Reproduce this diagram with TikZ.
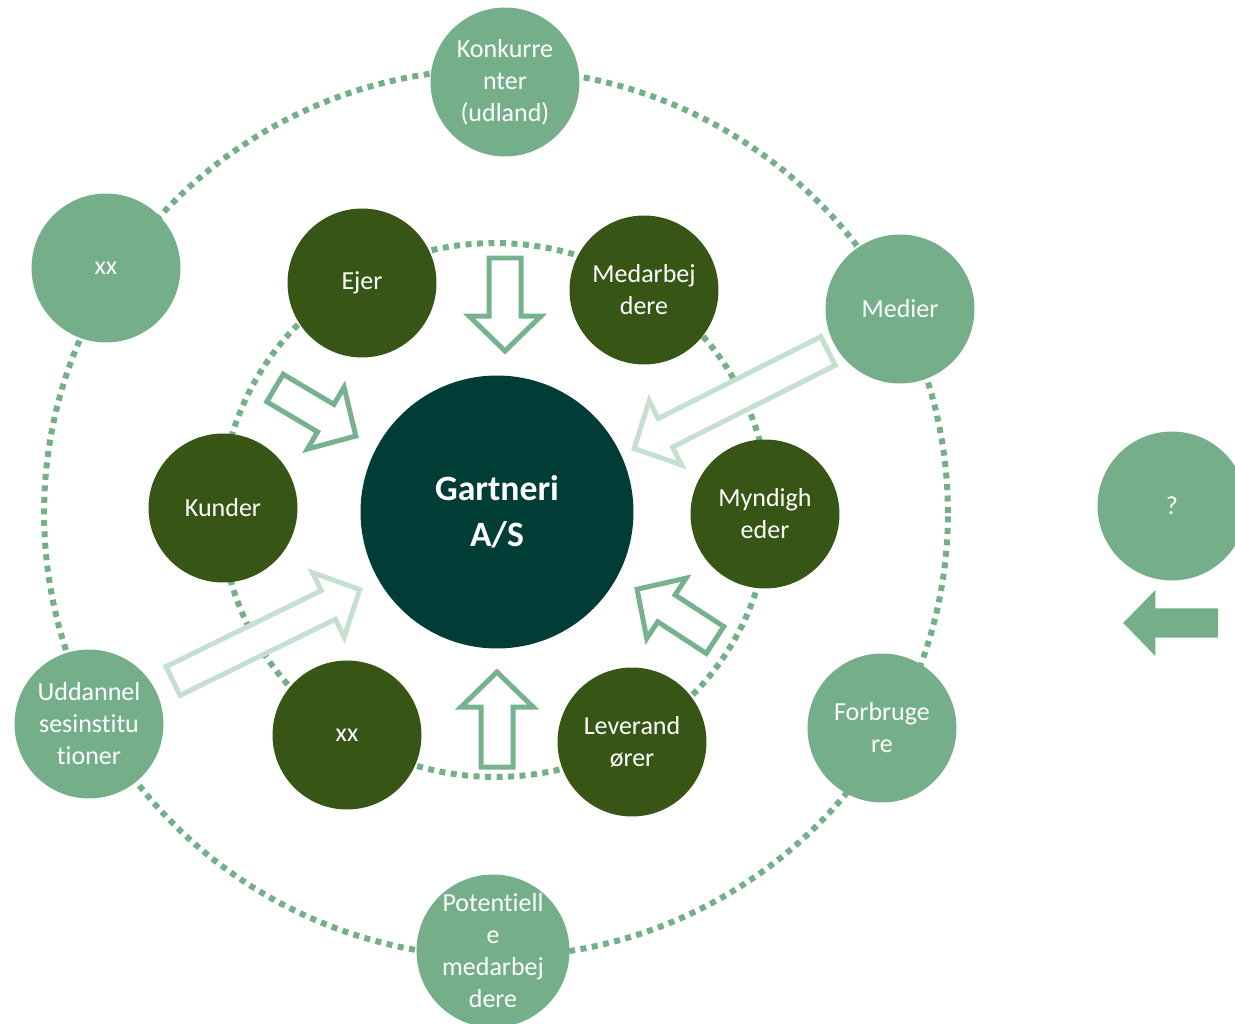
\documentclass[tikz,border=0pt]{standalone}
\usepackage{fontspec}
\setmainfont{Carlito}[Ligatures=NoCommon]
\usepackage{tikz}
\usetikzlibrary{positioning}

\definecolor{lysgroen}{RGB}{116,175,138}
\definecolor{moerkgroen}{RGB}{55,86,21}
\definecolor{gartnerifarve}{RGB}{0,61,54}
\definecolor{pilgroen}{RGB}{118,178,142}
\definecolor{blegpil}{RGB}{197,224,208}

\tikzset{
  yderst/.style={circle,fill=lysgroen,text=white,minimum size=2.98cm,inner sep=0pt,align=center,font=\fontsize{14.8}{18.2}\selectfont},
  inderst/.style={yderst,fill=moerkgroen},
  prikring/.style={draw=lysgroen,line width=0.12cm,dash pattern=on 0.12cm off 0.11cm},
  pilkant/.style={draw=pilgroen,fill=white,line width=0.1cm,line join=miter},
  pilbleg/.style={pilkant,draw=blegpil},
  pilfyldt/.style={fill=lysgroen},
  blokpil/.pic={
    \path[pic actions] (0,-16) -- ({#1-35},-16) -- ({#1-35},-36) -- (#1,0)
      -- ({#1-35},36) -- ({#1-35},16) -- (0,16) -- cycle;
  }
}

\begin{document}
\begin{tikzpicture}[x=0.02cm,y=-0.02cm]
		\useasboundingbox (0,0) rectangle (1235,1024);
		\draw[prikring] (495,510) ellipse [x radius=5.48cm, y radius=5.34cm];
		\draw[prikring] (496,513) ellipse [x radius=9.04cm, y radius=8.88cm];
		\node[circle,fill=gartnerifarve,text=white,minimum size=5.46cm,align=center,font=\bfseries\fontsize{20.3}{26}\selectfont] (gartneri) at (497,512) {Gartneri\\A/S};
		\node[inderst] (ejer) at (362,283) {Ejer};
		\node[inderst] (medarb) at (644,290) {Medarbej\\dere};
		\node[inderst] (kunder) at (223,508) {Kunder};
		\node[inderst] (myndig) at (765,514) {Myndigh\\eder};
		\node[inderst] (xxind) at (347,735) {xx};
		\node[inderst] (lever) at (632,742) {Leverand\\ører};
		\node[yderst] (konk) at (505,82) {Konkurre\\nter\\(udland)};
		\node[yderst] (xxyd) at (106,268) {xx};
		\node[yderst] (medier) at (900,309) {Medier};
		\node[yderst] (uddan) at (89,724) {Uddannel\\sesinstitu\\tioner};
		\node[yderst] (forbr) at (882,728) {Forbruge\\re};
		\node[yderst] (potent) at (493,951) {Potentiell\\e\\medarbej\\dere};
		\node[yderst] (spm) at (1172,506) {?};
		% pile mod midten
		\pic[pilkant,rotate=-90] at (505,258) {blokpil=93};
		\pic[pilkant,rotate=90] at (497,767) {blokpil=95};
		\pic[pilkant,rotate=-30.7] at (275,388) {blokpil=94};
		\pic[pilkant,rotate=146.9] at (715,640) {blokpil=93};
		\pic[pilbleg,rotate=206.7] at (828,351) {blokpil=217};
		\pic[pilbleg,rotate=26.1] at (173,681) {blokpil=208};
		\pic[pilfyldt,rotate=180,scale=0.92] at (1218,623) {blokpil=103};
	\end{tikzpicture}
\end{document}
